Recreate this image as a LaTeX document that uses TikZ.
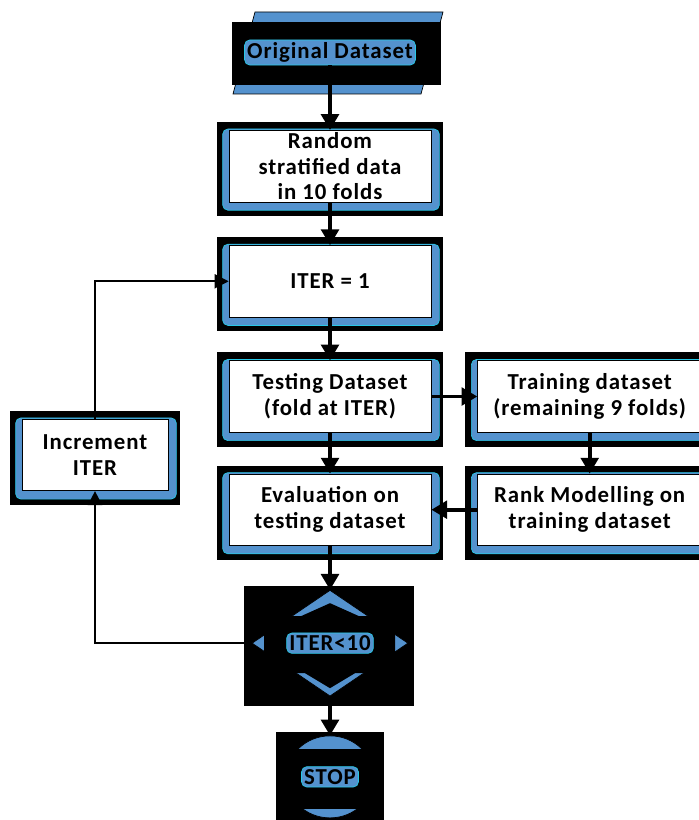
\documentclass[tikz,border=0pt]{standalone}
\usepackage{fontspec}
\setmainfont{Carlito}[LetterSpace=4]
\usepackage{xcolor}
\usetikzlibrary{arrows.meta,positioning,shapes.geometric,backgrounds}
\definecolor{shadowblue}{RGB}{84,146,206}
\definecolor{rimcyan}{RGB}{40,200,230}

\begin{document}
\begin{tikzpicture}[>={Triangle[length=9pt,width=10pt]}, node distance=8.6mm and 9.2mm,
  every node/.style={font=\fontsize{13}{14.6}\selectfont\bfseries}]

  % ===== Styles =====
  \tikzset{
    flow/.style={->, line width=2.2pt},
    back/.style={-{Triangle[length=8pt,width=8pt]}, line width=1.1pt},
    stepbox/.style={draw, thin, fill=white, align=center, inner xsep=1pt, inner ysep=0pt, minimum width=40.4mm, minimum height=14.3mm},
    widebox/.style={stepbox, minimum width=44.8mm},
    smallbox/.style={stepbox, minimum width=29.2mm},
    glow/.style={fill=shadowblue, draw=rimcyan, rounded corners=3pt, inner sep=1.5pt},
    decision/.style={diamond, draw, thin, fill=shadowblue, inner sep=0pt, minimum width=31.2mm, minimum height=21.2mm},
    terminal/.style={ellipse, draw, thin, fill=shadowblue, inner sep=0pt, minimum width=17.4mm, minimum height=16.4mm},
    mask/.style={fill=black}
  }

  % ===== Page frame (same proportions as the sketch) =====
  \useasboundingbox (0,0) rectangle (13.98,-16.4);
  \clip (0,0) rectangle (13.98,-16.4);

  % ===== Main column =====
  \node[glow] (orig) at (6.60,-1.05) {Original Dataset};
  \node[stepbox, anchor=north] (rand) at (6.60,-2.60) {Random\\stratified data\\in 10 folds};
  \node[stepbox, below=of rand] (iter) {ITER = 1};
  \node[stepbox, below=of iter] (test) {Testing Dataset\\(fold at ITER)};
  \node[stepbox, below=8.2mm of test] (eval) {Evaluation on\\testing dataset};

  % right column (runs off the page edge)
  \node[widebox, right=of test] (train) {Training dataset\\(remaining 9 folds)};
  \node[widebox, right=of eval] (rank) {Rank Modelling on\\training dataset};

  % left column, loop back
  \node[smallbox] (incr) at (1.90,-9.10) {Increment\\ITER};

  % ===== Decision and end =====
  \node[decision, below=8.8mm of eval] (dec) {};
  \fill[mask, shift={(dec.center)}] (-1.32,0.54) -- (-0.58,0.54) -- (0,0.80) -- (0.58,0.54)
    -- (1.30,0.54) -- (1.30,-0.60) -- (0.50,-0.60) -- (0,-0.90) -- (-0.50,-0.60) -- (-1.32,-0.60) -- cycle;
  \node[glow] (declbl) at (dec) {ITER<10};

  \node[terminal, below=7.8mm of dec] (stop) {};
  \fill[mask] ([shift={(-1.0,0.56)}]stop.center) rectangle ([shift={(1.0,-0.64)}]stop.center);
  \node[glow] (stoplbl) at (stop) {STOP};

  % ===== Frames behind the boxes =====
  \begin{scope}[on background layer]
    \filldraw[fill=shadowblue, draw=black, thin, shift={(orig.center)}]
      (-1.50,0.81) -- (2.26,0.81) -- (1.82,-0.83) -- (-1.94,-0.83) -- cycle;
    \fill[black] ([shift={(-1.96,0.61)}]orig.center) rectangle ([shift={(2.22,-0.65)}]orig.center);
    \foreach \n in {rand,iter,test,eval,train,rank,incr}{
      \fill[black] ([shift={(-0.24,0.16)}]\n.north west) rectangle ([shift={(0.24,-0.28)}]\n.south east);
      \filldraw[fill=shadowblue, draw=rimcyan, rounded corners=3pt]
        ([shift={(-0.12,0.02)}]\n.north west) rectangle ([shift={(0.16,-0.16)}]\n.south east);
    }
    \fill[black] ([shift={(-1.72,1.14)}]dec.center) rectangle ([shift={(1.68,-1.26)}]dec.center);
    \fill[black] ([shift={(-1.08,0.90)}]stop.center) rectangle ([shift={(1.08,-0.96)}]stop.center);
  \end{scope}

  % ===== Connections =====
  \draw[flow] (orig) -- (rand);
  \draw[flow] (rand) -- (iter);
  \draw[flow] (iter) -- (test);
  \draw[flow] (test) -- (train);
  \draw[flow] (test) -- (eval);
  \draw[flow] (train) -- (rank);
  \draw[flow] (rank) -- (eval);
  \draw[flow] (eval) -- (dec);
  \draw[flow] (dec) -- (stop);
  \draw[back] (dec.west) -| (incr.south);
  \draw[back] (incr.north) |- (iter.west);

\end{tikzpicture}
\end{document}
